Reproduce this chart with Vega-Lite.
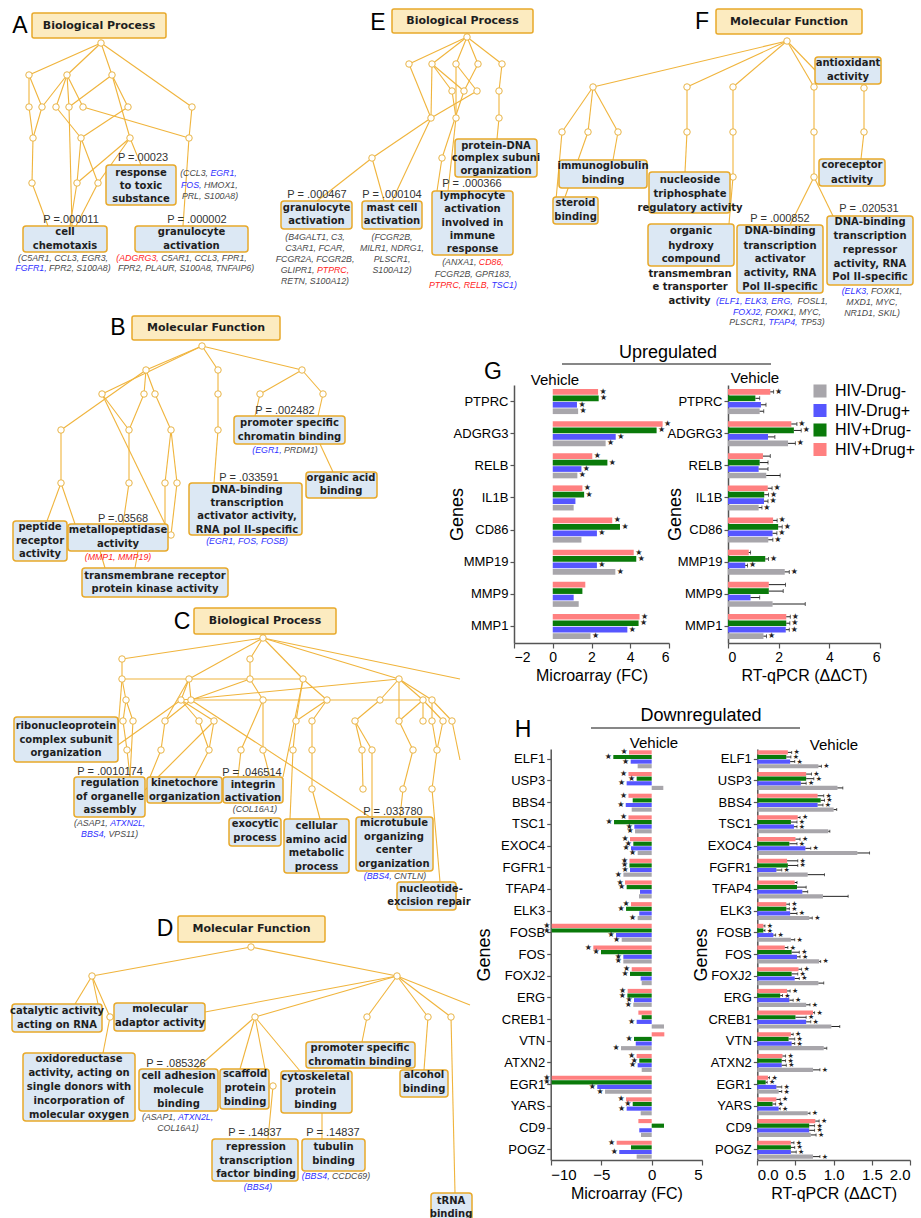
{
"$schema":"https://vega.github.io/schema/vega-lite/v6.json",
"width":921,"height":1218,"autosize":"none","padding":0,"background":"white",
"config":{"view":{"stroke":null},"font":"Liberation Sans","axis":{"grid":false,"labelFont":"Liberation Sans","titleFont":"Liberation Sans","labelColor":"#000","titleColor":"#000","domainColor":"#555","tickColor":"#555","domainWidth":1.5,"tickWidth":1.2,"titleFontWeight":"normal"}},
"datasets":{
"nodes":[{"x":101,"y":43},{"x":29,"y":75},{"x":67,"y":75},{"x":112,"y":75},{"x":29,"y":107},{"x":42,"y":107},{"x":56,"y":107},{"x":69,"y":107},{"x":83,"y":107},{"x":128,"y":107},{"x":192,"y":107},{"x":33,"y":138},{"x":81,"y":138},{"x":130,"y":138},{"x":189,"y":138},{"x":32,"y":183},{"x":77,"y":183},{"x":98,"y":183},
{"x":467,"y":37},{"x":409,"y":64},{"x":432,"y":64},{"x":456,"y":64},{"x":478,"y":64},{"x":502,"y":64},{"x":452,"y":91},{"x":464,"y":91},{"x":477,"y":91},{"x":499,"y":91},{"x":431,"y":118},{"x":456,"y":118},{"x":499,"y":118},{"x":372,"y":158},{"x":442,"y":158},
{"x":787,"y":41},{"x":593,"y":87},{"x":687,"y":87},{"x":733,"y":87},{"x":814,"y":87},{"x":864,"y":88},{"x":562,"y":132},{"x":588,"y":132},{"x":618,"y":132},{"x":687,"y":132},{"x":733,"y":132},{"x":814,"y":132},{"x":864,"y":132},{"x":733,"y":177},{"x":814,"y":177},
{"x":202,"y":346},{"x":146,"y":370},{"x":218,"y":370},{"x":302,"y":370},{"x":102,"y":394},{"x":144,"y":394},{"x":155,"y":394},{"x":218,"y":394},{"x":260,"y":394},{"x":323,"y":394},{"x":61,"y":430},{"x":129,"y":430},{"x":171,"y":430},{"x":218,"y":430},{"x":61,"y":483},{"x":129,"y":483},{"x":165,"y":483},{"x":177,"y":483},{"x":171,"y":535},
{"x":263,"y":638},{"x":122,"y":659},{"x":250,"y":659},{"x":122,"y":679},{"x":189,"y":679},{"x":250,"y":679},{"x":303,"y":679},{"x":399,"y":679},{"x":126,"y":700},{"x":181,"y":700},{"x":191,"y":700},{"x":263,"y":700},{"x":327,"y":700},{"x":380,"y":700},{"x":423,"y":700},{"x":432,"y":700},{"x":123,"y":721},{"x":133,"y":721},{"x":165,"y":721},{"x":199,"y":721},{"x":214,"y":721},{"x":296,"y":721},{"x":312,"y":721},{"x":355,"y":721},{"x":399,"y":721},{"x":423,"y":721},{"x":432,"y":721},{"x":443,"y":721},{"x":452,"y":721},{"x":127,"y":750},{"x":161,"y":750},{"x":209,"y":750},{"x":241,"y":750},{"x":263,"y":750},{"x":293,"y":750},{"x":312,"y":750},{"x":362,"y":750},{"x":372,"y":750},{"x":413,"y":750},{"x":437,"y":750},{"x":312,"y":789},{"x":363,"y":789},{"x":403,"y":789},{"x":432,"y":789},
{"x":251,"y":947},{"x":92,"y":976},{"x":397,"y":976},{"x":110,"y":1017},{"x":255,"y":1017},{"x":367,"y":1017},{"x":428,"y":1017},{"x":451,"y":1017},{"x":273,"y":1086}],
"edges":[{"x":101,"y":43,"x2":29,"y2":75},{"x":101,"y":43,"x2":67,"y2":75},{"x":101,"y":43,"x2":112,"y2":75},{"x":101,"y":43,"x2":192,"y2":107},{"x":29,"y":75,"x2":29,"y2":107},{"x":29,"y":75,"x2":42,"y2":107},{"x":67,"y":75,"x2":42,"y2":107},{"x":67,"y":75,"x2":56,"y2":107},{"x":67,"y":75,"x2":69,"y2":107},{"x":67,"y":75,"x2":83,"y2":107},{"x":112,"y":75,"x2":128,"y2":107},{"x":112,"y":75,"x2":69,"y2":107},{"x":112,"y":75,"x2":130,"y2":138},{"x":29,"y":107,"x2":33,"y2":138},{"x":42,"y":107,"x2":33,"y2":138},{"x":56,"y":107,"x2":81,"y2":138},{"x":69,"y":107,"x2":72,"y2":226},{"x":83,"y":107,"x2":189,"y2":138},{"x":128,"y":107,"x2":81,"y2":138},{"x":192,"y":107,"x2":189,"y2":138},{"x":189,"y":138,"x2":183,"y2":226},{"x":33,"y":138,"x2":32,"y2":183},{"x":81,"y":138,"x2":77,"y2":183},{"x":81,"y":138,"x2":98,"y2":183},{"x":130,"y":138,"x2":141,"y2":165},{"x":130,"y":138,"x2":77,"y2":183},{"x":130,"y":138,"x2":98,"y2":183},{"x":32,"y":183,"x2":48,"y2":226},{"x":77,"y":183,"x2":70,"y2":226},{"x":98,"y":183,"x2":76,"y2":226},
{"x":467,"y":37,"x2":409,"y2":64},{"x":467,"y":37,"x2":432,"y2":64},{"x":467,"y":37,"x2":456,"y2":64},{"x":467,"y":37,"x2":478,"y2":64},{"x":467,"y":37,"x2":502,"y2":64},{"x":409,"y":64,"x2":431,"y2":118},{"x":432,"y":64,"x2":452,"y2":91},{"x":432,"y":64,"x2":464,"y2":91},{"x":432,"y":64,"x2":431,"y2":118},{"x":456,"y":64,"x2":477,"y2":91},{"x":456,"y":64,"x2":456,"y2":118},{"x":478,"y":64,"x2":464,"y2":91},{"x":502,"y":64,"x2":499,"y2":91},{"x":499,"y":91,"x2":499,"y2":118},{"x":499,"y":118,"x2":497,"y2":139},{"x":477,"y":91,"x2":431,"y2":118},{"x":452,"y":91,"x2":456,"y2":118},{"x":464,"y":91,"x2":442,"y2":158},{"x":431,"y":118,"x2":372,"y2":158},{"x":431,"y":118,"x2":392,"y2":201},{"x":372,"y":158,"x2":317,"y2":201},{"x":372,"y":158,"x2":384,"y2":201},{"x":456,"y":118,"x2":448,"y2":191},{"x":442,"y":158,"x2":437,"y2":191},
{"x":787,"y":41,"x2":593,"y2":87},{"x":787,"y":41,"x2":687,"y2":87},{"x":787,"y":41,"x2":733,"y2":87},{"x":787,"y":41,"x2":814,"y2":87},{"x":787,"y":41,"x2":815,"y2":70},{"x":593,"y":87,"x2":562,"y2":132},{"x":593,"y":87,"x2":588,"y2":132},{"x":593,"y":87,"x2":618,"y2":132},{"x":562,"y":132,"x2":556,"y2":200},{"x":588,"y":132,"x2":565,"y2":197},{"x":618,"y":132,"x2":613,"y2":160},{"x":687,"y":87,"x2":687,"y2":132},{"x":687,"y":132,"x2":685,"y2":172},{"x":733,"y":87,"x2":733,"y2":132},{"x":733,"y":132,"x2":733,"y2":177},{"x":733,"y":177,"x2":729,"y2":224},{"x":814,"y":87,"x2":814,"y2":132},{"x":814,"y":132,"x2":814,"y2":177},{"x":814,"y":177,"x2":790,"y2":225},{"x":814,"y":177,"x2":833,"y2":216},{"x":864,"y":88,"x2":864,"y2":132},{"x":864,"y":132,"x2":861,"y2":159},
{"x":202,"y":346,"x2":146,"y2":370},{"x":202,"y":346,"x2":218,"y2":370},{"x":202,"y":346,"x2":302,"y2":370},{"x":202,"y":346,"x2":102,"y2":394},{"x":146,"y":370,"x2":61,"y2":430},{"x":146,"y":370,"x2":144,"y2":394},{"x":146,"y":370,"x2":155,"y2":394},{"x":102,"y":394,"x2":129,"y2":430},{"x":102,"y":394,"x2":165,"y2":524},{"x":144,"y":394,"x2":129,"y2":430},{"x":155,"y":394,"x2":171,"y2":430},{"x":218,"y":370,"x2":218,"y2":394},{"x":218,"y":394,"x2":218,"y2":430},{"x":218,"y":430,"x2":214,"y2":483},{"x":302,"y":370,"x2":260,"y2":394},{"x":302,"y":370,"x2":323,"y2":394},{"x":260,"y":394,"x2":255,"y2":416},{"x":323,"y":394,"x2":318,"y2":416},{"x":320,"y":444,"x2":333,"y2":472},{"x":61,"y":430,"x2":61,"y2":483},{"x":129,"y":430,"x2":129,"y2":483},{"x":171,"y":430,"x2":165,"y2":483},{"x":171,"y":430,"x2":177,"y2":483},{"x":61,"y":483,"x2":47,"y2":521},{"x":61,"y":483,"x2":75,"y2":524},{"x":129,"y":483,"x2":123,"y2":524},{"x":165,"y":483,"x2":165,"y2":524},{"x":177,"y":483,"x2":171,"y2":535},{"x":100,"y":551,"x2":105,"y2":568},{"x":138,"y":551,"x2":135,"y2":568},
{"x":263,"y":638,"x2":122,"y2":659},{"x":263,"y":638,"x2":250,"y2":659},{"x":263,"y":638,"x2":189,"y2":679},{"x":263,"y":638,"x2":303,"y2":679},{"x":263,"y":638,"x2":399,"y2":679},{"x":263,"y":638,"x2":460,"y2":679},{"x":122,"y":659,"x2":122,"y2":679},{"x":250,"y":659,"x2":250,"y2":679},{"x":122,"y":679,"x2":126,"y2":700},{"x":122,"y":679,"x2":118,"y2":730},{"x":122,"y":679,"x2":303,"y2":679},{"x":189,"y":679,"x2":181,"y2":700},{"x":189,"y":679,"x2":191,"y2":700},{"x":189,"y":679,"x2":165,"y2":721},{"x":250,"y":679,"x2":263,"y2":700},{"x":250,"y":679,"x2":191,"y2":700},{"x":303,"y":679,"x2":327,"y2":700},{"x":303,"y":679,"x2":296,"y2":721},{"x":303,"y":679,"x2":283,"y2":777},{"x":181,"y":700,"x2":399,"y2":679},{"x":191,"y":700,"x2":423,"y2":700},{"x":399,"y":679,"x2":380,"y2":700},{"x":399,"y":679,"x2":423,"y2":700},{"x":399,"y":679,"x2":432,"y2":700},{"x":399,"y":679,"x2":399,"y2":721},{"x":126,"y":700,"x2":123,"y2":721},{"x":126,"y":700,"x2":133,"y2":721},{"x":181,"y":700,"x2":199,"y2":721},{"x":181,"y":700,"x2":214,"y2":721},{"x":181,"y":700,"x2":118,"y2":745},{"x":191,"y":700,"x2":165,"y2":721},{"x":191,"y":700,"x2":370,"y2":817},{"x":263,"y":700,"x2":263,"y2":750},{"x":263,"y":700,"x2":241,"y2":750},{"x":327,"y":700,"x2":312,"y2":721},{"x":327,"y":700,"x2":296,"y2":721},{"x":380,"y":700,"x2":355,"y2":721},{"x":423,"y":700,"x2":423,"y2":721},{"x":423,"y":700,"x2":443,"y2":721},{"x":432,"y":700,"x2":432,"y2":721},{"x":432,"y":700,"x2":452,"y2":721},{"x":423,"y":700,"x2":399,"y2":721},{"x":123,"y":721,"x2":127,"y2":750},{"x":133,"y":721,"x2":130,"y2":777},{"x":165,"y":721,"x2":161,"y2":750},{"x":199,"y":721,"x2":209,"y2":750},{"x":214,"y":721,"x2":209,"y2":750},{"x":214,"y":721,"x2":145,"y2":790},{"x":296,"y":721,"x2":293,"y2":750},{"x":312,"y":721,"x2":312,"y2":750},{"x":355,"y":721,"x2":362,"y2":750},{"x":355,"y":721,"x2":372,"y2":750},{"x":399,"y":721,"x2":413,"y2":750},{"x":432,"y":721,"x2":437,"y2":750},{"x":443,"y":721,"x2":437,"y2":750},{"x":452,"y":721,"x2":460,"y2":760},{"x":127,"y":750,"x2":130,"y2":777},{"x":161,"y":750,"x2":150,"y2":777},{"x":209,"y":750,"x2":195,"y2":777},{"x":241,"y":750,"x2":238,"y2":777},{"x":263,"y":750,"x2":270,"y2":777},{"x":293,"y":750,"x2":290,"y2":819},{"x":312,"y":750,"x2":312,"y2":789},{"x":362,"y":750,"x2":363,"y2":789},{"x":372,"y":750,"x2":372,"y2":817},{"x":413,"y":750,"x2":403,"y2":789},{"x":437,"y":750,"x2":432,"y2":789},{"x":312,"y":789,"x2":320,"y2":819},{"x":403,"y":789,"x2":400,"y2":817},{"x":432,"y":789,"x2":440,"y2":882},
{"x":251,"y":947,"x2":92,"y2":976},{"x":251,"y":947,"x2":397,"y2":976},{"x":92,"y":976,"x2":75,"y2":1004},{"x":92,"y":976,"x2":98,"y2":1004},{"x":92,"y":976,"x2":110,"y2":1017},{"x":110,"y":1017,"x2":103,"y2":1053},{"x":397,"y":976,"x2":205,"y2":1012},{"x":397,"y":976,"x2":255,"y2":1017},{"x":397,"y":976,"x2":367,"y2":1017},{"x":397,"y":976,"x2":428,"y2":1017},{"x":397,"y":976,"x2":451,"y2":1017},{"x":397,"y":976,"x2":470,"y2":1005},{"x":255,"y":1017,"x2":196,"y2":1069},{"x":255,"y":1017,"x2":240,"y2":1069},{"x":255,"y":1017,"x2":265,"y2":1069},{"x":255,"y":1017,"x2":300,"y2":1071},{"x":367,"y":1017,"x2":362,"y2":1042},{"x":428,"y":1017,"x2":424,"y2":1070},{"x":451,"y":1017,"x2":455,"y2":1193},{"x":273,"y":1086,"x2":268,"y2":1139},{"x":322,"y":1113,"x2":322,"y2":1139}],
"boxes":[{"x":32,"y":13,"x2":166,"y2":38,"k":"title"},{"x":392,"y":9,"x2":533,"y2":33,"k":"title"},{"x":716,"y":9,"x2":862,"y2":34,"k":"title"},{"x":132,"y":316,"x2":280,"y2":340,"k":"title"},{"x":194,"y":608,"x2":336,"y2":634,"k":"title"},{"x":178,"y":916,"x2":325,"y2":942,"k":"title"},
{"x":106,"y":165,"x2":176,"y2":205,"k":"term"},{"x":23,"y":226,"x2":107,"y2":252,"k":"term"},{"x":135,"y":226,"x2":248,"y2":252,"k":"term"},{"x":455,"y":139,"x2":537,"y2":177,"k":"term"},{"x":281,"y":201,"x2":352,"y2":229,"k":"term"},{"x":362,"y":201,"x2":422,"y2":229,"k":"term"},{"x":432,"y":191,"x2":513,"y2":255,"k":"term"},{"x":815,"y":57,"x2":881,"y2":84,"k":"term"},{"x":559,"y":160,"x2":647,"y2":188,"k":"term"},{"x":819,"y":159,"x2":885,"y2":186,"k":"term"},{"x":649,"y":172,"x2":730,"y2":213,"k":"term"},{"x":553,"y":197,"x2":598,"y2":224,"k":"term"},{"x":648,"y":224,"x2":734,"y2":266,"k":"term"},{"x":737,"y":225,"x2":823,"y2":293,"k":"term"},{"x":827,"y":216,"x2":913,"y2":285,"k":"term"},
{"x":234,"y":416,"x2":345,"y2":444,"k":"term"},{"x":306,"y":472,"x2":377,"y2":498,"k":"term"},{"x":189,"y":483,"x2":302,"y2":535,"k":"term"},{"x":13,"y":521,"x2":67,"y2":561,"k":"term"},{"x":68,"y":524,"x2":168,"y2":551,"k":"term"},{"x":82,"y":568,"x2":228,"y2":597,"k":"term"},
{"x":14,"y":717,"x2":118,"y2":762,"k":"term"},{"x":74,"y":777,"x2":145,"y2":817,"k":"term"},{"x":147,"y":777,"x2":222,"y2":803,"k":"term"},{"x":223,"y":777,"x2":283,"y2":803,"k":"term"},{"x":229,"y":818,"x2":281,"y2":846,"k":"term"},{"x":284,"y":819,"x2":349,"y2":873,"k":"term"},{"x":356,"y":817,"x2":433,"y2":871,"k":"term"},{"x":397,"y":882,"x2":456,"y2":910,"k":"term"},
{"x":12,"y":1004,"x2":102,"y2":1032,"k":"term"},{"x":114,"y":1003,"x2":205,"y2":1031,"k":"term"},{"x":23,"y":1053,"x2":135,"y2":1121,"k":"term"},{"x":139,"y":1069,"x2":218,"y2":1111,"k":"term"},{"x":220,"y":1069,"x2":269,"y2":1109,"k":"term"},{"x":281,"y":1071,"x2":352,"y2":1113,"k":"term"},{"x":306,"y":1042,"x2":415,"y2":1068,"k":"term"},{"x":400,"y":1070,"x2":448,"y2":1097,"k":"term"},{"x":212,"y":1139,"x2":298,"y2":1181,"k":"term"},{"x":302,"y":1139,"x2":365,"y2":1171,"k":"term"},{"x":431,"y":1193,"x2":472,"y2":1230,"k":"term"}],
"lines":[{"x":562,"y":364,"x2":771,"y2":364},{"x":591,"y":728,"x2":800,"y2":728}],
"txt":[{"x":20,"y":26,"t":"A","k":"letter"},{"x":118,"y":328,"t":"B","k":"letter"},{"x":182,"y":622,"t":"C","k":"letter"},{"x":165,"y":929,"t":"D","k":"letter"},{"x":378,"y":23,"t":"E","k":"letter"},{"x":702,"y":22,"t":"F","k":"letter"},{"x":493,"y":372,"t":"G","k":"letter"},{"x":523,"y":730,"t":"H","k":"letter"},
{"x":668,"y":353,"t":"Upregulated","k":"head"},{"x":701,"y":716,"t":"Downregulated","k":"head"},
{"x":555,"y":380,"t":"Vehicle","k":"veh"},{"x":755,"y":378,"t":"Vehicle","k":"veh"},{"x":654,"y":743,"t":"Vehicle","k":"veh"},{"x":834,"y":745,"t":"Vehicle","k":"veh"},
{"x":99,"y":26,"t":"Biological Process","k":"title"},{"x":462.5,"y":21,"t":"Biological Process","k":"title"},{"x":789,"y":21.5,"t":"Molecular Function","k":"title"},{"x":206,"y":328,"t":"Molecular Function","k":"title"},{"x":265,"y":621,"t":"Biological Process","k":"title"},{"x":251.5,"y":929,"t":"Molecular Function","k":"title"},
{"x":141,"y":172.7,"t":"response","k":"term"},{"x":141,"y":185.7,"t":"to toxic","k":"term"},{"x":141,"y":199,"t":"substance","k":"term"},{"x":65,"y":232,"t":"cell","k":"term"},{"x":65,"y":245.7,"t":"chemotaxis","k":"term"},{"x":191.5,"y":232,"t":"granulocyte","k":"term"},{"x":191.5,"y":245.7,"t":"activation","k":"term"},
{"x":496,"y":145.7,"t":"protein-DNA","k":"term"},{"x":496,"y":158.3,"t":"complex subuni","k":"term"},{"x":496,"y":171,"t":"organization","k":"term"},{"x":316.5,"y":208.3,"t":"granulocyte","k":"term"},{"x":316.5,"y":221,"t":"activation","k":"term"},{"x":392,"y":208.3,"t":"mast cell","k":"term"},{"x":392,"y":221,"t":"activation","k":"term"},{"x":472.5,"y":196,"t":"lymphocyte","k":"term"},{"x":472.5,"y":209,"t":"activation","k":"term"},{"x":472.5,"y":222.5,"t":"involved in","k":"term"},{"x":472.5,"y":236,"t":"immune","k":"term"},{"x":472.5,"y":249,"t":"response","k":"term"},
{"x":848,"y":63,"t":"antioxidant","k":"term"},{"x":848,"y":77,"t":"activity","k":"term"},{"x":603,"y":166,"t":"immunoglobulin","k":"term"},{"x":603,"y":180,"t":"binding","k":"term"},{"x":852,"y":165,"t":"coreceptor","k":"term"},{"x":852,"y":179.7,"t":"activity","k":"term"},{"x":690,"y":180,"t":"nucleoside","k":"term"},{"x":690,"y":194,"t":"triphosphate","k":"term"},{"x":690,"y":208,"t":"regulatory activity","k":"term"},{"x":575.5,"y":203,"t":"steroid","k":"term"},{"x":575.5,"y":217,"t":"binding","k":"term"},{"x":691,"y":231,"t":"organic","k":"term"},{"x":691,"y":246,"t":"hydroxy","k":"term"},{"x":691,"y":259,"t":"compound","k":"term"},{"x":690,"y":274,"t":"transmembran","k":"term"},{"x":690,"y":287,"t":"e transporter","k":"term"},{"x":689.5,"y":301,"t":"activity","k":"term"},
{"x":780,"y":231,"t":"DNA-binding","k":"term"},{"x":780,"y":245.7,"t":"transcription","k":"term"},{"x":780,"y":258.7,"t":"activator","k":"term"},{"x":780,"y":273,"t":"activity, RNA","k":"term"},{"x":780,"y":286.7,"t":"Pol II-specific","k":"term"},{"x":870,"y":221.7,"t":"DNA-binding","k":"term"},{"x":870,"y":236,"t":"transcription","k":"term"},{"x":870,"y":249.7,"t":"repressor","k":"term"},{"x":870,"y":264,"t":"activity, RNA","k":"term"},{"x":870,"y":277,"t":"Pol II-specific","k":"term"},
{"x":289.5,"y":423.3,"t":"promoter specific","k":"term"},{"x":289.5,"y":437,"t":"chromatin binding","k":"term"},{"x":341,"y":477.7,"t":"organic acid","k":"term"},{"x":341,"y":491,"t":"binding","k":"term"},{"x":247,"y":489.7,"t":"DNA-binding","k":"term"},{"x":247,"y":503,"t":"transcription","k":"term"},{"x":247,"y":516.3,"t":"activator activity,","k":"term"},{"x":247,"y":530,"t":"RNA pol II-specific","k":"term"},{"x":40,"y":527,"t":"peptide","k":"term"},{"x":40,"y":541,"t":"receptor","k":"term"},{"x":40,"y":554,"t":"activity","k":"term"},{"x":118,"y":530,"t":"metallopeptidase","k":"term"},{"x":118,"y":544,"t":"activity","k":"term"},{"x":155,"y":575.7,"t":"transmembrane receptor","k":"term"},{"x":155,"y":589.3,"t":"protein kinase activity","k":"term"},
{"x":66,"y":726,"t":"ribonucleoprotein","k":"term"},{"x":66,"y":740,"t":"complex subunit","k":"term"},{"x":66,"y":753.3,"t":"organization","k":"term"},{"x":110,"y":783,"t":"regulation","k":"term"},{"x":110,"y":796.7,"t":"of organelle","k":"term"},{"x":110,"y":810,"t":"assembly","k":"term"},{"x":184.5,"y":783.3,"t":"kinetochore","k":"term"},{"x":184.5,"y":797,"t":"organization","k":"term"},{"x":253,"y":785,"t":"integrin","k":"term"},{"x":253,"y":798,"t":"activation","k":"term"},{"x":255,"y":824,"t":"exocytic","k":"term"},{"x":255,"y":838,"t":"process","k":"term"},{"x":316.5,"y":826,"t":"cellular","k":"term"},{"x":316.5,"y":840,"t":"amino acid","k":"term"},{"x":316.5,"y":852.7,"t":"metabolic","k":"term"},{"x":316.5,"y":866.7,"t":"process","k":"term"},{"x":394,"y":823.3,"t":"microtubule","k":"term"},{"x":394,"y":837,"t":"organizing","k":"term"},{"x":394,"y":850,"t":"center","k":"term"},{"x":394,"y":864,"t":"organization","k":"term"},{"x":431,"y":889,"t":"nucleotide-","k":"term"},{"x":429,"y":902,"t":"excision repair","k":"term"},
{"x":57,"y":1011,"t":"catalytic activity","k":"term"},{"x":57,"y":1025,"t":"acting on RNA","k":"term"},{"x":160,"y":1008.7,"t":"molecular","k":"term"},{"x":160,"y":1022.7,"t":"adaptor activity","k":"term"},{"x":79,"y":1059,"t":"oxidoreductase","k":"term"},{"x":79,"y":1073,"t":"activity, acting on","k":"term"},{"x":79,"y":1087,"t":"single donors with","k":"term"},{"x":79,"y":1101,"t":"incorporation of","k":"term"},{"x":79,"y":1115,"t":"molecular oxygen","k":"term"},{"x":178.5,"y":1076,"t":"cell adhesion","k":"term"},{"x":178.5,"y":1090,"t":"molecule","k":"term"},{"x":178.5,"y":1103.7,"t":"binding","k":"term"},{"x":245,"y":1074,"t":"scaffold","k":"term"},{"x":245,"y":1088,"t":"protein","k":"term"},{"x":245,"y":1101.7,"t":"binding","k":"term"},{"x":315.5,"y":1077,"t":"cytoskeletal","k":"term"},{"x":315.5,"y":1091.3,"t":"protein","k":"term"},{"x":315.5,"y":1105,"t":"binding","k":"term"},{"x":360,"y":1048,"t":"promoter specific","k":"term"},{"x":360,"y":1061.7,"t":"chromatin binding","k":"term"},{"x":424,"y":1075.3,"t":"alcohol","k":"term"},{"x":424,"y":1089.3,"t":"binding","k":"term"},{"x":256,"y":1146.7,"t":"repression","k":"term"},{"x":256,"y":1160.7,"t":"transcription","k":"term"},{"x":256,"y":1174,"t":"factor binding","k":"term"},{"x":333.5,"y":1146.7,"t":"tubulin","k":"term"},{"x":333.5,"y":1161,"t":"binding","k":"term"},{"x":451,"y":1201,"t":"tRNA","k":"term"},{"x":451,"y":1214,"t":"binding","k":"term"},
{"x":143,"y":158,"t":"P =.00023","k":"pval"},{"x":71,"y":220,"t":"P =.000011","k":"pval"},{"x":197,"y":220,"t":"P = .000002","k":"pval"},{"x":317,"y":195,"t":"P = .000467","k":"pval"},{"x":392,"y":195,"t":"P = .000104","k":"pval"},{"x":472,"y":184,"t":"P = .000366","k":"pval"},{"x":780,"y":219,"t":"P = .000852","k":"pval"},{"x":869,"y":209,"t":"P = .020531","k":"pval"},{"x":285,"y":411,"t":"P = .002482","k":"pval"},{"x":249,"y":478,"t":"P = .033591","k":"pval"},{"x":123,"y":519,"t":"P =.03568","k":"pval"},{"x":110,"y":772,"t":"P = .0010174","k":"pval"},{"x":252,"y":773,"t":"P = .046514","k":"pval"},{"x":393,"y":812,"t":"P = .033780","k":"pval"},{"x":176,"y":1064,"t":"P = .085326","k":"pval"},{"x":255,"y":1133,"t":"P = .14837","k":"pval"},{"x":333,"y":1133,"t":"P = .14837","k":"pval"}],
"gen":[{"x":208,"y":173,"t":"(CCL3,","c":"none","a":"r"},{"x":208,"y":173,"t":"EGR1,","c":"down","a":"l"},{"x":201.5,"y":184.5,"t":"FOS,","c":"down","a":"r"},{"x":201.5,"y":184.5,"t":"HMOX1,","c":"none","a":"l"},{"x":210,"y":196,"t":"PRL, S100A8)","c":"none","a":"c"},{"x":63,"y":258,"t":"(C5AR1, CCL3, EGR3,","c":"none","a":"c"},{"x":46.6,"y":268,"t":"FGFR1,","c":"down","a":"r"},{"x":46.6,"y":268,"t":"FPR2, S100A8)","c":"none","a":"l"},{"x":158.8,"y":258,"t":"(ADGRG3,","c":"up","a":"r"},{"x":158.8,"y":258,"t":"C5AR1, CCL3, FPR1,","c":"none","a":"l"},{"x":186,"y":268,"t":"FPR2, PLAUR, S100A8, TNFAIP6)","c":"none","a":"c"},
{"x":315,"y":237,"t":"(B4GALT1, C3,","c":"none","a":"c"},{"x":315,"y":248,"t":"C3AR1, FCAR,","c":"none","a":"c"},{"x":315,"y":259,"t":"FCGR2A, FCGR2B,","c":"none","a":"c"},{"x":314.5,"y":270,"t":"GLIPR1,","c":"none","a":"r"},{"x":314.5,"y":270,"t":"PTPRC,","c":"up","a":"l"},{"x":315,"y":281,"t":"RETN, S100A12)","c":"none","a":"c"},{"x":392,"y":237,"t":"(FCGR2B,","c":"none","a":"c"},{"x":392,"y":248,"t":"MILR1, NDRG1,","c":"none","a":"c"},{"x":392,"y":259,"t":"PLSCR1,","c":"none","a":"c"},{"x":392,"y":270,"t":"S100A12)","c":"none","a":"c"},{"x":476.4,"y":262,"t":"(ANXA1,","c":"none","a":"r"},{"x":476.4,"y":262,"t":"CD86,","c":"up","a":"l"},{"x":473,"y":274,"t":"FCGR2B, GPR183,","c":"none","a":"c"},{"x":489.1,"y":285,"t":"PTPRC, RELB,","c":"up","a":"r"},{"x":489.1,"y":285,"t":"TSC1)","c":"down","a":"l"},
{"x":713.6,"y":301,"t":"(ELF1, ELK3, ERG,","c":"down","a":"l"},{"x":795,"y":301,"t":"FOSL1,","c":"none","a":"l"},{"x":762.8,"y":312,"t":"FOXJ2,","c":"down","a":"r"},{"x":762.8,"y":312,"t":"FOXK1, MYC,","c":"none","a":"l"},{"x":766,"y":322,"t":"PLSCR1,","c":"none","a":"r"},{"x":766,"y":322,"t":"TFAP4,","c":"down","a":"l"},{"x":798.2,"y":322,"t":"TP53)","c":"none","a":"l"},{"x":868.6,"y":291,"t":"(ELK3,","c":"down","a":"r"},{"x":868.6,"y":291,"t":"FOXK1,","c":"none","a":"l"},{"x":872,"y":302,"t":"MXD1, MYC,","c":"none","a":"c"},{"x":872,"y":313,"t":"NR1D1, SKIL)","c":"none","a":"c"},
{"x":281.6,"y":450,"t":"(EGR1,","c":"down","a":"r"},{"x":281.6,"y":450,"t":"PRDM1)","c":"none","a":"l"},{"x":247,"y":541,"t":"(EGR1, FOS, FOSB)","c":"down","a":"c"},{"x":118,"y":557,"t":"(MMP1, MMP19)","c":"up","a":"c"},
{"x":107.8,"y":823,"t":"(ASAP1,","c":"none","a":"r"},{"x":107.8,"y":823,"t":"ATXN2L,","c":"down","a":"l"},{"x":106,"y":834,"t":"BBS4,","c":"down","a":"r"},{"x":106,"y":834,"t":"VPS11)","c":"none","a":"l"},{"x":255,"y":809,"t":"(COL16A1)","c":"none","a":"c"},{"x":391.6,"y":876,"t":"(BBS4,","c":"down","a":"r"},{"x":391.6,"y":876,"t":"CNTLN)","c":"none","a":"l"},
{"x":175.7,"y":1117,"t":"(ASAP1,","c":"none","a":"r"},{"x":175.7,"y":1117,"t":"ATXN2L,","c":"down","a":"l"},{"x":178,"y":1128,"t":"COL16A1)","c":"none","a":"c"},{"x":258,"y":1187,"t":"(BBS4)","c":"down","a":"c"},{"x":329.6,"y":1176,"t":"(BBS4,","c":"down","a":"r"},{"x":329.6,"y":1176,"t":"CCDC69)","c":"none","a":"l"}],
"gm":[{"g":"PTPRC","s":"HIV+Drug+","v":2.34,"k":1},{"g":"PTPRC","s":"HIV+Drug-","v":2.37,"k":1},{"g":"PTPRC","s":"HIV-Drug+","v":1.25,"k":1},{"g":"PTPRC","s":"HIV-Drug-","v":1.31,"k":1},
{"g":"ADGRG3","s":"HIV+Drug+","v":5.67,"k":1},{"g":"ADGRG3","s":"HIV+Drug-","v":5.36,"k":1},{"g":"ADGRG3","s":"HIV-Drug+","v":3.25,"k":1},{"g":"ADGRG3","s":"HIV-Drug-","v":2.73,"k":1},
{"g":"RELB","s":"HIV+Drug+","v":2.04,"k":1},{"g":"RELB","s":"HIV+Drug-","v":2.82,"k":1},{"g":"RELB","s":"HIV-Drug+","v":1.48,"k":1},{"g":"RELB","s":"HIV-Drug-","v":1.27,"k":1},
{"g":"IL1B","s":"HIV+Drug+","v":1.53,"k":1},{"g":"IL1B","s":"HIV+Drug-","v":1.62,"k":1},{"g":"IL1B","s":"HIV-Drug+","v":1.17,"k":0},{"g":"IL1B","s":"HIV-Drug-","v":1.08,"k":0},
{"g":"CD86","s":"HIV+Drug+","v":3.07,"k":1},{"g":"CD86","s":"HIV+Drug-","v":3.47,"k":1},{"g":"CD86","s":"HIV-Drug+","v":2.28,"k":1},{"g":"CD86","s":"HIV-Drug-","v":1.48,"k":0},
{"g":"MMP19","s":"HIV+Drug+","v":4.18,"k":1},{"g":"MMP19","s":"HIV+Drug-","v":4.31,"k":1},{"g":"MMP19","s":"HIV-Drug+","v":2.28,"k":1},{"g":"MMP19","s":"HIV-Drug-","v":3.23,"k":1},
{"g":"MMP9","s":"HIV+Drug+","v":1.68,"k":0},{"g":"MMP9","s":"HIV+Drug-","v":1.53,"k":0},{"g":"MMP9","s":"HIV-Drug+","v":1.08,"k":0},{"g":"MMP9","s":"HIV-Drug-","v":1.34,"k":0},
{"g":"MMP1","s":"HIV+Drug+","v":4.48,"k":1},{"g":"MMP1","s":"HIV+Drug-","v":4.43,"k":1},{"g":"MMP1","s":"HIV-Drug+","v":3.85,"k":1},{"g":"MMP1","s":"HIV-Drug-","v":1.95,"k":1}],
"gq":[{"g":"PTPRC","s":"HIV+Drug+","v":1.67,"h":1.8,"k":1},{"g":"PTPRC","s":"HIV+Drug-","v":1.08,"h":1.25,"k":0},{"g":"PTPRC","s":"HIV-Drug+","v":1.3,"h":1.5,"k":0},{"g":"PTPRC","s":"HIV-Drug-","v":1.25,"h":1.41,"k":0},
{"g":"ADGRG3","s":"HIV+Drug+","v":2.5,"h":2.72,"k":1},{"g":"ADGRG3","s":"HIV+Drug-","v":2.6,"h":2.89,"k":1},{"g":"ADGRG3","s":"HIV-Drug+","v":1.58,"h":1.85,"k":0},{"g":"ADGRG3","s":"HIV-Drug-","v":2.37,"h":2.66,"k":1},
{"g":"RELB","s":"HIV+Drug+","v":1.38,"h":1.67,"k":0},{"g":"RELB","s":"HIV+Drug-","v":1.25,"h":1.58,"k":0},{"g":"RELB","s":"HIV-Drug+","v":1.21,"h":1.58,"k":0},{"g":"RELB","s":"HIV-Drug-","v":1.51,"h":2.06,"k":0},
{"g":"IL1B","s":"HIV+Drug+","v":1.57,"h":1.74,"k":1},{"g":"IL1B","s":"HIV+Drug-","v":1.43,"h":1.6,"k":1},{"g":"IL1B","s":"HIV-Drug+","v":1.42,"h":1.58,"k":1},{"g":"IL1B","s":"HIV-Drug-","v":1.21,"h":1.34,"k":1},
{"g":"CD86","s":"HIV+Drug+","v":1.78,"h":1.94,"k":1},{"g":"CD86","s":"HIV+Drug-","v":1.98,"h":2.14,"k":1},{"g":"CD86","s":"HIV-Drug+","v":1.76,"h":1.93,"k":1},{"g":"CD86","s":"HIV-Drug-","v":1.59,"h":1.77,"k":1},
{"g":"MMP19","s":"HIV+Drug+","v":0.82,"h":0.89,"k":0},{"g":"MMP19","s":"HIV+Drug-","v":1.47,"h":1.6,"k":1},{"g":"MMP19","s":"HIV-Drug+","v":0.68,"h":0.77,"k":1},{"g":"MMP19","s":"HIV-Drug-","v":2.24,"h":2.42,"k":1},
{"g":"MMP9","s":"HIV+Drug+","v":1.61,"h":2.27,"k":0},{"g":"MMP9","s":"HIV+Drug-","v":1.61,"h":2.18,"k":0},{"g":"MMP9","s":"HIV-Drug+","v":0.89,"h":1.25,"k":0},{"g":"MMP9","s":"HIV-Drug-","v":1.76,"h":3.05,"k":0},
{"g":"MMP1","s":"HIV+Drug+","v":2.3,"h":2.46,"k":1},{"g":"MMP1","s":"HIV+Drug-","v":2.3,"h":2.44,"k":1},{"g":"MMP1","s":"HIV-Drug+","v":2.28,"h":2.42,"k":1},{"g":"MMP1","s":"HIV-Drug-","v":1.4,"h":1.52,"k":1}],
"hm":[{"g":"ELF1","s":"HIV+Drug+","v":-2.25,"k":1},{"g":"ELF1","s":"HIV+Drug-","v":-3.8,"k":1},{"g":"ELF1","s":"HIV-Drug+","v":-2.08,"k":1},{"g":"ELF1","s":"HIV-Drug-","v":-1.39,"k":0},
{"g":"USP3","s":"HIV+Drug+","v":-2.3,"k":1},{"g":"USP3","s":"HIV+Drug-","v":-1.49,"k":1},{"g":"USP3","s":"HIV-Drug+","v":-2.48,"k":1},{"g":"USP3","s":"HIV-Drug-","v":1.15,"k":0},
{"g":"BBS4","s":"HIV+Drug+","v":-2.3,"k":1},{"g":"BBS4","s":"HIV+Drug-","v":-1.88,"k":0},{"g":"BBS4","s":"HIV-Drug+","v":-2.57,"k":1},{"g":"BBS4","s":"HIV-Drug-","v":-1.98,"k":0},
{"g":"TSC1","s":"HIV+Drug+","v":-2.3,"k":1},{"g":"TSC1","s":"HIV+Drug-","v":-3.73,"k":1},{"g":"TSC1","s":"HIV-Drug+","v":-1.72,"k":1},{"g":"TSC1","s":"HIV-Drug-","v":-1.65,"k":1},
{"g":"EXOC4","s":"HIV+Drug+","v":-2.15,"k":1},{"g":"EXOC4","s":"HIV+Drug-","v":-1.82,"k":1},{"g":"EXOC4","s":"HIV-Drug+","v":-2.05,"k":1},{"g":"EXOC4","s":"HIV-Drug-","v":-1.39,"k":1},
{"g":"FGFR1","s":"HIV+Drug+","v":-2.2,"k":1},{"g":"FGFR1","s":"HIV+Drug-","v":-2.2,"k":1},{"g":"FGFR1","s":"HIV-Drug+","v":-2.15,"k":1},{"g":"FGFR1","s":"HIV-Drug-","v":-2.8,"k":1},
{"g":"TFAP4","s":"HIV+Drug+","v":-2.64,"k":1},{"g":"TFAP4","s":"HIV+Drug-","v":-2.48,"k":1},{"g":"TFAP4","s":"HIV-Drug+","v":-1.16,"k":0},{"g":"TFAP4","s":"HIV-Drug-","v":-1.26,"k":0},
{"g":"ELK3","s":"HIV+Drug+","v":-2.05,"k":1},{"g":"ELK3","s":"HIV+Drug-","v":-2.54,"k":1},{"g":"ELK3","s":"HIV-Drug+","v":-1.23,"k":0},{"g":"ELK3","s":"HIV-Drug-","v":-1.39,"k":1},
{"g":"FOSB","s":"HIV+Drug+","v":-9.9,"k":1},{"g":"FOSB","s":"HIV+Drug-","v":-9.9,"k":1},{"g":"FOSB","s":"HIV-Drug+","v":-3.53,"k":1},{"g":"FOSB","s":"HIV-Drug-","v":-2.97,"k":1},
{"g":"FOS","s":"HIV+Drug+","v":-5.78,"k":1},{"g":"FOS","s":"HIV+Drug-","v":-5.02,"k":1},{"g":"FOS","s":"HIV-Drug+","v":-2.81,"k":1},{"g":"FOS","s":"HIV-Drug-","v":-2.81,"k":1},
{"g":"FOXJ2","s":"HIV+Drug+","v":-1.98,"k":1},{"g":"FOXJ2","s":"HIV+Drug-","v":-2.15,"k":1},{"g":"FOXJ2","s":"HIV-Drug+","v":-1.09,"k":0},{"g":"FOXJ2","s":"HIV-Drug-","v":-0.99,"k":0},
{"g":"ERG","s":"HIV+Drug+","v":-2.38,"k":1},{"g":"ERG","s":"HIV+Drug-","v":-2.41,"k":1},{"g":"ERG","s":"HIV-Drug+","v":-1.75,"k":1},{"g":"ERG","s":"HIV-Drug-","v":-1.82,"k":1},
{"g":"CREB1","s":"HIV+Drug+","v":-1.32,"k":0},{"g":"CREB1","s":"HIV+Drug-","v":-0.99,"k":0},{"g":"CREB1","s":"HIV-Drug+","v":-1.49,"k":1},{"g":"CREB1","s":"HIV-Drug-","v":1.22,"k":0},
{"g":"VTN","s":"HIV+Drug+","v":1.25,"k":0},{"g":"VTN","s":"HIV+Drug-","v":-1.75,"k":1},{"g":"VTN","s":"HIV-Drug+","v":-1.58,"k":0},{"g":"VTN","s":"HIV-Drug-","v":-3.04,"k":1},
{"g":"ATXN2","s":"HIV+Drug+","v":-1.49,"k":1},{"g":"ATXN2","s":"HIV+Drug-","v":-1.23,"k":1},{"g":"ATXN2","s":"HIV-Drug+","v":-1.39,"k":1},{"g":"ATXN2","s":"HIV-Drug-","v":-0.99,"k":0},
{"g":"EGR1","s":"HIV+Drug+","v":-9.9,"k":1},{"g":"EGR1","s":"HIV+Drug-","v":-9.9,"k":1},{"g":"EGR1","s":"HIV-Drug+","v":-5.39,"k":1},{"g":"EGR1","s":"HIV-Drug-","v":-4.62,"k":1},
{"g":"YARS","s":"HIV+Drug+","v":-2.54,"k":1},{"g":"YARS","s":"HIV+Drug-","v":-1.88,"k":1},{"g":"YARS","s":"HIV-Drug+","v":-2.48,"k":1},{"g":"YARS","s":"HIV-Drug-","v":-1.09,"k":0},
{"g":"CD9","s":"HIV+Drug+","v":-1.32,"k":0},{"g":"CD9","s":"HIV+Drug-","v":1.22,"k":0},{"g":"CD9","s":"HIV-Drug+","v":-1.23,"k":0},{"g":"CD9","s":"HIV-Drug-","v":-1.06,"k":0},
{"g":"POGZ","s":"HIV+Drug+","v":-3.47,"k":1},{"g":"POGZ","s":"HIV+Drug-","v":-2.05,"k":0},{"g":"POGZ","s":"HIV-Drug+","v":-3.21,"k":1},{"g":"POGZ","s":"HIV-Drug-","v":-1.49,"k":0}],
"hq":[{"g":"ELF1","s":"HIV+Drug+","v":0.4,"h":0.45,"k":1},{"g":"ELF1","s":"HIV+Drug-","v":0.38,"h":0.44,"k":1},{"g":"ELF1","s":"HIV-Drug+","v":0.43,"h":0.49,"k":1},{"g":"ELF1","s":"HIV-Drug-","v":0.8,"h":0.84,"k":1},
{"g":"USP3","s":"HIV+Drug+","v":0.64,"h":0.71,"k":1},{"g":"USP3","s":"HIV+Drug-","v":0.64,"h":0.74,"k":1},{"g":"USP3","s":"HIV-Drug+","v":0.57,"h":0.64,"k":1},{"g":"USP3","s":"HIV-Drug-","v":1.05,"h":1.12,"k":0},
{"g":"BBS4","s":"HIV+Drug+","v":0.79,"h":0.87,"k":1},{"g":"BBS4","s":"HIV+Drug-","v":0.83,"h":0.88,"k":1},{"g":"BBS4","s":"HIV-Drug+","v":0.79,"h":0.86,"k":1},{"g":"BBS4","s":"HIV-Drug-","v":1.0,"h":1.04,"k":0},
{"g":"TSC1","s":"HIV+Drug+","v":0.53,"h":0.56,"k":1},{"g":"TSC1","s":"HIV+Drug-","v":0.44,"h":0.52,"k":1},{"g":"TSC1","s":"HIV-Drug+","v":0.48,"h":0.52,"k":1},{"g":"TSC1","s":"HIV-Drug-","v":0.93,"h":0.95,"k":0},
{"g":"EXOC4","s":"HIV+Drug+","v":0.5,"h":0.56,"k":1},{"g":"EXOC4","s":"HIV+Drug-","v":0.42,"h":0.52,"k":1},{"g":"EXOC4","s":"HIV-Drug+","v":0.63,"h":0.7,"k":1},{"g":"EXOC4","s":"HIV-Drug-","v":1.31,"h":1.47,"k":0},
{"g":"FGFR1","s":"HIV+Drug+","v":0.39,"h":0.53,"k":1},{"g":"FGFR1","s":"HIV+Drug-","v":0.4,"h":0.53,"k":1},{"g":"FGFR1","s":"HIV-Drug+","v":0.25,"h":0.32,"k":1},{"g":"FGFR1","s":"HIV-Drug-","v":0.66,"h":0.88,"k":0},
{"g":"TFAP4","s":"HIV+Drug+","v":0.49,"h":0.52,"k":0},{"g":"TFAP4","s":"HIV+Drug-","v":0.52,"h":0.64,"k":0},{"g":"TFAP4","s":"HIV-Drug+","v":0.59,"h":0.66,"k":0},{"g":"TFAP4","s":"HIV-Drug-","v":0.86,"h":1.19,"k":0},
{"g":"ELK3","s":"HIV+Drug+","v":0.38,"h":0.42,"k":1},{"g":"ELK3","s":"HIV+Drug-","v":0.38,"h":0.42,"k":1},{"g":"ELK3","s":"HIV-Drug+","v":0.43,"h":0.52,"k":1},{"g":"ELK3","s":"HIV-Drug-","v":0.68,"h":0.72,"k":1},
{"g":"FOSB","s":"HIV+Drug+","v":0.08,"h":0.1,"k":1},{"g":"FOSB","s":"HIV+Drug-","v":0.08,"h":0.1,"k":1},{"g":"FOSB","s":"HIV-Drug+","v":0.21,"h":0.24,"k":1},{"g":"FOSB","s":"HIV-Drug-","v":0.44,"h":0.49,"k":1},
{"g":"FOS","s":"HIV+Drug+","v":0.36,"h":0.4,"k":1},{"g":"FOS","s":"HIV+Drug-","v":0.45,"h":0.55,"k":1},{"g":"FOS","s":"HIV-Drug+","v":0.52,"h":0.56,"k":1},{"g":"FOS","s":"HIV-Drug-","v":0.81,"h":0.83,"k":1},
{"g":"FOXJ2","s":"HIV+Drug+","v":0.54,"h":0.58,"k":1},{"g":"FOXJ2","s":"HIV+Drug-","v":0.45,"h":0.53,"k":1},{"g":"FOXJ2","s":"HIV-Drug+","v":0.49,"h":0.55,"k":1},{"g":"FOXJ2","s":"HIV-Drug-","v":0.8,"h":0.87,"k":0},
{"g":"ERG","s":"HIV+Drug+","v":0.39,"h":0.43,"k":1},{"g":"ERG","s":"HIV+Drug-","v":0.3,"h":0.33,"k":1},{"g":"ERG","s":"HIV-Drug+","v":0.42,"h":0.47,"k":1},{"g":"ERG","s":"HIV-Drug-","v":0.64,"h":0.69,"k":1},
{"g":"CREB1","s":"HIV+Drug+","v":0.73,"h":0.75,"k":1},{"g":"CREB1","s":"HIV+Drug-","v":0.5,"h":0.64,"k":1},{"g":"CREB1","s":"HIV-Drug+","v":0.64,"h":0.7,"k":1},{"g":"CREB1","s":"HIV-Drug-","v":0.97,"h":1.08,"k":0},
{"g":"VTN","s":"HIV+Drug+","v":0.44,"h":0.47,"k":1},{"g":"VTN","s":"HIV+Drug-","v":0.41,"h":0.49,"k":1},{"g":"VTN","s":"HIV-Drug+","v":0.45,"h":0.49,"k":1},{"g":"VTN","s":"HIV-Drug-","v":0.87,"h":0.91,"k":0},
{"g":"ATXN2","s":"HIV+Drug+","v":0.33,"h":0.37,"k":1},{"g":"ATXN2","s":"HIV+Drug-","v":0.32,"h":0.37,"k":1},{"g":"ATXN2","s":"HIV-Drug+","v":0.32,"h":0.38,"k":1},{"g":"ATXN2","s":"HIV-Drug-","v":0.73,"h":0.82,"k":1},
{"g":"EGR1","s":"HIV+Drug+","v":0.14,"h":0.16,"k":1},{"g":"EGR1","s":"HIV+Drug-","v":0.11,"h":0.13,"k":1},{"g":"EGR1","s":"HIV-Drug+","v":0.25,"h":0.32,"k":1},{"g":"EGR1","s":"HIV-Drug-","v":0.28,"h":0.32,"k":1},
{"g":"YARS","s":"HIV+Drug+","v":0.25,"h":0.3,"k":1},{"g":"YARS","s":"HIV+Drug-","v":0.2,"h":0.24,"k":1},{"g":"YARS","s":"HIV-Drug+","v":0.28,"h":0.3,"k":1},{"g":"YARS","s":"HIV-Drug-","v":0.66,"h":0.69,"k":1},
{"g":"CD9","s":"HIV+Drug+","v":0.76,"h":0.81,"k":1},{"g":"CD9","s":"HIV+Drug-","v":0.68,"h":0.75,"k":1},{"g":"CD9","s":"HIV-Drug+","v":0.68,"h":0.75,"k":1},{"g":"CD9","s":"HIV-Drug-","v":0.7,"h":0.77,"k":1},
{"g":"POGZ","s":"HIV+Drug+","v":0.44,"h":0.48,"k":1},{"g":"POGZ","s":"HIV+Drug-","v":0.44,"h":0.49,"k":1},{"g":"POGZ","s":"HIV-Drug+","v":0.44,"h":0.51,"k":1},{"g":"POGZ","s":"HIV-Drug-","v":0.73,"h":0.82,"k":1}]
},
"resolve":{"scale":{"x":"independent","y":"independent","color":"independent","yOffset":"independent"},"axis":{"x":"independent","y":"independent"},"legend":{"color":"independent"}},
"layer":[
{"encoding":{"x":{"field":"x","type":"quantitative","scale":{"domain":[0,921],"range":[0,921],"nice":false,"zero":false},"axis":null},"y":{"field":"y","type":"quantitative","scale":{"domain":[0,1218],"range":[0,1218],"nice":false,"zero":false},"axis":null}},
"layer":[
{"data":{"name":"edges"},"mark":{"type":"rule","color":"#F0B43C","strokeWidth":1.1},"encoding":{"x2":{"field":"x2"},"y2":{"field":"y2"}}},
{"data":{"name":"nodes"},"mark":{"type":"point","shape":"circle","filled":true,"fill":"white","stroke":"#E9B548","strokeWidth":1,"size":42,"opacity":1}},
{"data":{"name":"boxes"},"transform":[{"filter":"datum.k=='term'"}],"mark":{"type":"rect","fill":"#DCE8F4","stroke":"#E8A92A","strokeWidth":1.5,"cornerRadius":3},"encoding":{"x2":{"field":"x2"},"y2":{"field":"y2"}}},
{"data":{"name":"boxes"},"transform":[{"filter":"datum.k=='title'"}],"mark":{"type":"rect","fill":"#FCEBC0","stroke":"#E8A92A","strokeWidth":1.5,"cornerRadius":2},"encoding":{"x2":{"field":"x2"},"y2":{"field":"y2"}}},
{"data":{"name":"lines"},"mark":{"type":"rule","color":"#111","strokeWidth":1.2},"encoding":{"x2":{"field":"x2"},"y2":{"field":"y2"}}},
{"data":{"name":"txt"},"transform":[{"filter":"datum.k=='title'"}],"mark":{"type":"text","font":"DejaVu Sans","fontWeight":"bold","fontSize":11,"color":"#1E1E1E","baseline":"middle","align":"center"},"encoding":{"text":{"field":"t"}}},
{"data":{"name":"txt"},"transform":[{"filter":"datum.k=='term'"}],"mark":{"type":"text","font":"DejaVu Sans","fontWeight":"bold","fontSize":10,"color":"#1E1E1E","baseline":"middle","align":"center"},"encoding":{"text":{"field":"t"}}},
{"data":{"name":"txt"},"transform":[{"filter":"datum.k=='pval'"}],"mark":{"type":"text","font":"Liberation Sans","fontSize":11,"color":"#333","baseline":"middle","align":"center"},"encoding":{"text":{"field":"t"}}},
{"data":{"name":"txt"},"transform":[{"filter":"datum.k=='letter'"}],"mark":{"type":"text","font":"Liberation Sans","fontSize":23,"color":"#000","baseline":"middle","align":"center"},"encoding":{"text":{"field":"t"}}},
{"data":{"name":"txt"},"transform":[{"filter":"datum.k=='head'"}],"mark":{"type":"text","font":"Liberation Sans","fontSize":18,"color":"#000","baseline":"middle","align":"center"},"encoding":{"text":{"field":"t"}}},
{"data":{"name":"txt"},"transform":[{"filter":"datum.k=='veh'"}],"mark":{"type":"text","font":"Liberation Sans","fontSize":15,"color":"#000","baseline":"middle","align":"center"},"encoding":{"text":{"field":"t"}}},
{"data":{"name":"gen"},"transform":[{"filter":"datum.a=='c'"}],"mark":{"type":"text","font":"Liberation Sans","fontStyle":"italic","fontSize":8.8,"baseline":"middle","align":"center"},"encoding":{"text":{"field":"t"},"color":{"field":"c","type":"nominal","scale":{"domain":["up","down","none"],"range":["#FF2424","#3030FF","#4A4A4A"]},"legend":null}}},
{"data":{"name":"gen"},"transform":[{"filter":"datum.a=='l'"}],"mark":{"type":"text","font":"Liberation Sans","fontStyle":"italic","fontSize":8.8,"baseline":"middle","align":"left","dx":2.4},"encoding":{"text":{"field":"t"},"color":{"field":"c","type":"nominal","scale":{"domain":["up","down","none"],"range":["#FF2424","#3030FF","#4A4A4A"]},"legend":null}}},
{"data":{"name":"gen"},"transform":[{"filter":"datum.a=='r'"}],"mark":{"type":"text","font":"Liberation Sans","fontStyle":"italic","fontSize":8.8,"baseline":"middle","align":"right"},"encoding":{"text":{"field":"t"},"color":{"field":"c","type":"nominal","scale":{"domain":["up","down","none"],"range":["#FF2424","#3030FF","#4A4A4A"]},"legend":null}}}
]},
{"data":{"name":"gm"},
"encoding":{"y":{"field":"g","type":"nominal","scale":{"domain":["PTPRC","ADGRG3","RELB","IL1B","CD86","MMP19","MMP9","MMP1"],"range":[385,643],"paddingInner":0.22,"paddingOuter":0.125},"axis":{"orient":"left","title":"Genes","offset":-514,"titleX":-48,"labelFontSize":13,"titleFontSize":18,"tickSize":4,"labelPadding":2}},
"x":{"field":"v","type":"quantitative","scale":{"domain":[-2,6],"range":[514,669],"nice":false,"zero":false},"axis":{"orient":"bottom","title":"Microarray (FC)","offset":-575,"values":[-2,0,2,4,6],"labelFontSize":14,"titleFontSize":16,"tickSize":5,"titlePadding":3}}},
"layer":[
{"mark":{"type":"bar"},"encoding":{"yOffset":{"field":"s","type":"nominal","scale":{"domain":["HIV+Drug+","HIV+Drug-","HIV-Drug+","HIV-Drug-"],"paddingInner":0.12}},"color":{"field":"s","type":"nominal","scale":{"domain":["HIV-Drug-","HIV-Drug+","HIV+Drug-","HIV+Drug+"],"range":["#A8A6AB","#5656FF","#0A7A0A","#FF8080"]},"legend":null}}},
{"transform":[{"filter":"datum.k==1"}],"mark":{"type":"text","text":"★","font":"DejaVu Sans","fontSize":8,"dx":5,"color":"#222","baseline":"middle"},"encoding":{"yOffset":{"field":"s","type":"nominal"}}},
{"data":{"values":[{}]},"mark":{"type":"rule","strokeDash":[2,2],"color":"#222","strokeWidth":1.3},"encoding":{"x":{"datum":0},"y":{"datum":"PTPRC","bandPosition":0},"y2":{"datum":"MMP1","bandPosition":1}}}
]},
{"data":{"name":"gq"},
"encoding":{"y":{"field":"g","type":"nominal","scale":{"domain":["PTPRC","ADGRG3","RELB","IL1B","CD86","MMP19","MMP9","MMP1"],"range":[385,643],"paddingInner":0.22,"paddingOuter":0.125},"axis":{"orient":"left","title":"Genes","offset":-728,"titleX":-44,"labelFontSize":13,"titleFontSize":18,"tickSize":4,"labelPadding":2}},
"x":{"field":"v","type":"quantitative","scale":{"domain":[0,6],"range":[728,880],"nice":false,"zero":false},"axis":{"orient":"bottom","title":"RT-qPCR (ΔΔCT)","offset":-575,"values":[0,2,4,6],"labelFontSize":14,"titleFontSize":16,"tickSize":5,"titlePadding":3}}},
"layer":[
{"mark":{"type":"bar"},"encoding":{"yOffset":{"field":"s","type":"nominal","scale":{"domain":["HIV+Drug+","HIV+Drug-","HIV-Drug+","HIV-Drug-"],"paddingInner":0.12}},"color":{"field":"s","type":"nominal","scale":{"domain":["HIV-Drug-","HIV-Drug+","HIV+Drug-","HIV+Drug+"],"range":["#A8A6AB","#5656FF","#0A7A0A","#FF8080"]},"legend":{"orient":"none","legendX":812,"legendY":383,"direction":"vertical","title":null,"symbolType":"square","symbolSize":170,"labelFontSize":16,"labelFont":"Liberation Sans","labelColor":"#000","rowPadding":3.5,"labelOffset":7,"symbolStrokeWidth":0}}}},
{"mark":{"type":"rule","color":"#222","strokeWidth":1},"encoding":{"x2":{"field":"h"},"yOffset":{"field":"s","type":"nominal"}}},
{"mark":{"type":"tick","orient":"vertical","thickness":1,"size":4,"color":"#222"},"encoding":{"x":{"field":"h","type":"quantitative"},"yOffset":{"field":"s","type":"nominal"}}},
{"transform":[{"filter":"datum.k==1"}],"mark":{"type":"text","text":"★","font":"DejaVu Sans","fontSize":8,"dx":5,"color":"#222","baseline":"middle"},"encoding":{"x":{"field":"h","type":"quantitative"},"yOffset":{"field":"s","type":"nominal"}}},
{"data":{"values":[{}]},"mark":{"type":"rule","strokeDash":[2,2],"color":"#222","strokeWidth":1.3},"encoding":{"x":{"datum":1},"y":{"datum":"PTPRC","bandPosition":0},"y2":{"datum":"MMP1","bandPosition":1}}}
]},
{"data":{"name":"hm"},
"encoding":{"y":{"field":"g","type":"nominal","scale":{"domain":["ELF1","USP3","BBS4","TSC1","EXOC4","FGFR1","TFAP4","ELK3","FOSB","FOS","FOXJ2","ERG","CREB1","VTN","ATXN2","EGR1","YARS","CD9","POGZ"],"range":[749,1160],"paddingInner":0.17,"paddingOuter":0.06},"axis":{"orient":"left","title":"Genes","offset":-550.7,"titleX":-57,"labelFontSize":13,"titleFontSize":18,"tickSize":4,"labelPadding":2}},
"x":{"field":"v","type":"quantitative","scale":{"domain":[-10,5],"range":[550.7,702.2],"nice":false,"zero":false},"axis":{"orient":"bottom","title":"Microarray (FC)","offset":-58,"values":[-10,-5,0,5],"labelFontSize":15,"titleFontSize":16,"tickSize":5,"titlePadding":3}}},
"layer":[
{"mark":{"type":"bar"},"encoding":{"yOffset":{"field":"s","type":"nominal","scale":{"domain":["HIV+Drug+","HIV+Drug-","HIV-Drug+","HIV-Drug-"],"paddingInner":0.1}},"color":{"field":"s","type":"nominal","scale":{"domain":["HIV-Drug-","HIV-Drug+","HIV+Drug-","HIV+Drug+"],"range":["#A8A6AB","#5656FF","#0A7A0A","#FF8080"]},"legend":null}}},
{"transform":[{"filter":"datum.k==1"}],"mark":{"type":"text","text":"★","font":"DejaVu Sans","fontSize":8,"dx":-5,"color":"#222","baseline":"middle"},"encoding":{"yOffset":{"field":"s","type":"nominal"}}},
{"data":{"values":[{}]},"mark":{"type":"rule","strokeDash":[2,2],"color":"#222","strokeWidth":1.3},"encoding":{"x":{"datum":0},"y":{"datum":"ELF1","bandPosition":0},"y2":{"datum":"POGZ","bandPosition":1}}}
]},
{"data":{"name":"hq"},
"encoding":{"y":{"field":"g","type":"nominal","scale":{"domain":["ELF1","USP3","BBS4","TSC1","EXOC4","FGFR1","TFAP4","ELK3","FOSB","FOS","FOXJ2","ERG","CREB1","VTN","ATXN2","EGR1","YARS","CD9","POGZ"],"range":[749,1160],"paddingInner":0.17,"paddingOuter":0.06},"axis":{"orient":"left","title":"Genes","offset":-757.3,"titleX":-47,"labelFontSize":13,"titleFontSize":18,"tickSize":4,"labelPadding":2}},
"x":{"field":"v","type":"quantitative","scale":{"domain":[0,2],"range":[757.3,910],"nice":false,"zero":false},"axis":{"orient":"bottom","title":"RT-qPCR (ΔΔCT)","offset":-58,"values":[0,0.5,1,1.5,2],"format":".1f","labelFontSize":15,"titleFontSize":16,"tickSize":5,"titlePadding":3}}},
"layer":[
{"mark":{"type":"bar"},"encoding":{"yOffset":{"field":"s","type":"nominal","scale":{"domain":["HIV+Drug+","HIV+Drug-","HIV-Drug+","HIV-Drug-"],"paddingInner":0.1}},"color":{"field":"s","type":"nominal","scale":{"domain":["HIV-Drug-","HIV-Drug+","HIV+Drug-","HIV+Drug+"],"range":["#A8A6AB","#5656FF","#0A7A0A","#FF8080"]},"legend":null}}},
{"mark":{"type":"rule","color":"#222","strokeWidth":1},"encoding":{"x2":{"field":"h"},"yOffset":{"field":"s","type":"nominal"}}},
{"mark":{"type":"tick","orient":"vertical","thickness":1,"size":3,"color":"#222"},"encoding":{"x":{"field":"h","type":"quantitative"},"yOffset":{"field":"s","type":"nominal"}}},
{"transform":[{"filter":"datum.k==1"}],"mark":{"type":"text","text":"★","font":"DejaVu Sans","fontSize":7,"dx":5,"color":"#222","baseline":"middle"},"encoding":{"x":{"field":"h","type":"quantitative"},"yOffset":{"field":"s","type":"nominal"}}},
{"data":{"values":[{}]},"mark":{"type":"rule","strokeDash":[2,2],"color":"#222","strokeWidth":1.3},"encoding":{"x":{"datum":1},"y":{"datum":"ELF1","bandPosition":0},"y2":{"datum":"POGZ","bandPosition":1}}}
]}
]
}
